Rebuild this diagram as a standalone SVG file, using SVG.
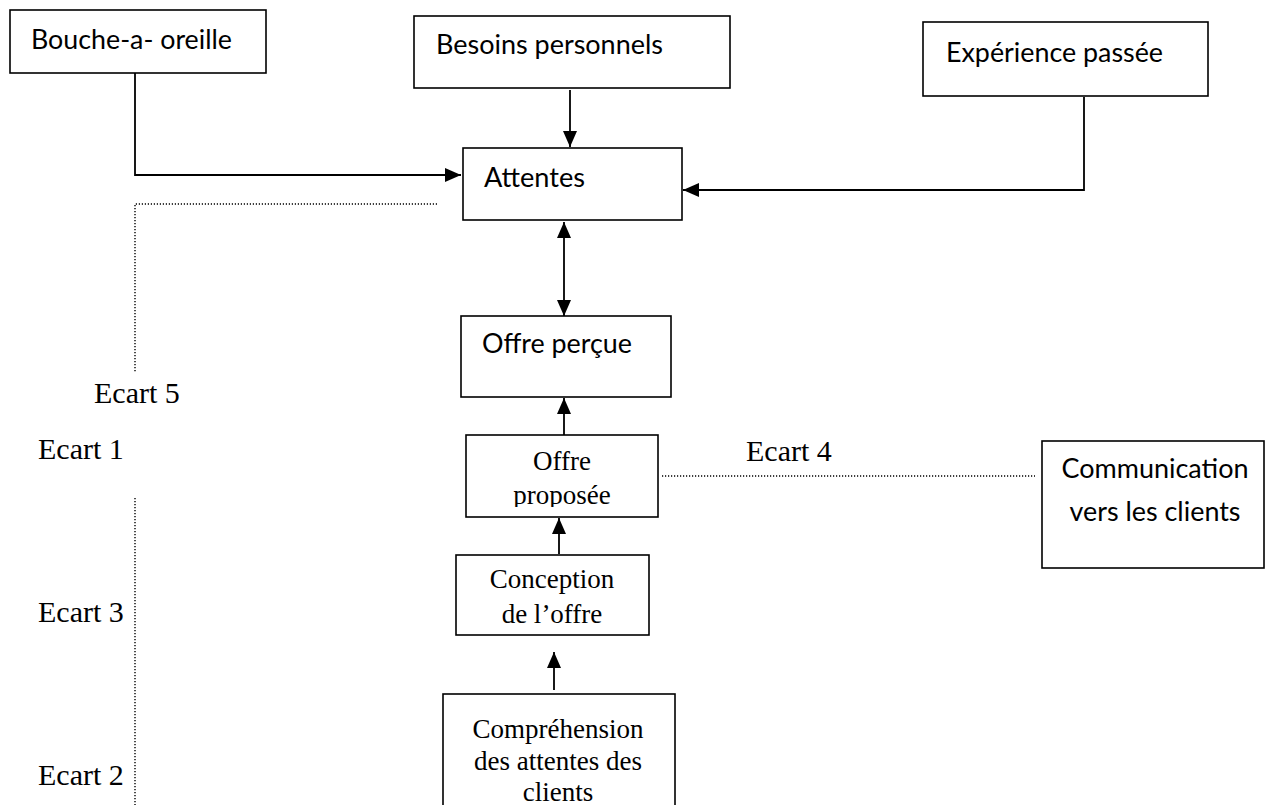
<svg xmlns="http://www.w3.org/2000/svg" width="1277" height="805" viewBox="0 0 1277 805">
  <defs>
    <style>
      .box { fill: #ffffff; stroke: #000000; stroke-width: 1.6; }
      .sans { font-family: Lato, "Open Sans", "Liberation Sans", sans-serif; font-size: 26px; fill: #000000; }
      .serif { font-family: "Liberation Serif", "Times New Roman", serif; font-size: 27px; fill: #000000; text-anchor: middle; }
      .gap { font-family: "Liberation Serif", "Times New Roman", serif; font-size: 30px; fill: #000000; }
      .link { fill: none; stroke: #000000; stroke-width: 1.8; }
      .dots { fill: none; stroke: #000000; stroke-width: 1.4; stroke-dasharray: 1.2 1.8; }
    </style>
    <marker id="head" viewBox="0 0 16 14" refX="16" refY="7" markerWidth="16" markerHeight="14" markerUnits="userSpaceOnUse" orient="auto-start-reverse">
      <path d="M0,0 L16,7 L0,14 Z" fill="#000000"/>
    </marker>
    <clipPath id="clip-proposee">
      <rect x="466" y="435" width="192" height="72"/>
    </clipPath>
  </defs>

  <!-- connectors -->
  <g id="connectors">
    <polyline class="link" points="135,70 135,175 461,175" marker-end="url(#head)"/>
    <line class="link" x1="570" y1="90" x2="570" y2="147" marker-end="url(#head)"/>
    <polyline class="link" points="1084,97 1084,190 683,190" marker-end="url(#head)"/>
    <line class="link" x1="564" y1="222" x2="564" y2="316" marker-start="url(#head)" marker-end="url(#head)"/>
    <line class="link" x1="564" y1="445" x2="564" y2="398" marker-end="url(#head)"/>
    <line class="link" x1="559" y1="554" x2="559" y2="518" marker-end="url(#head)"/>
    <line class="link" x1="554" y1="690" x2="554" y2="652" marker-end="url(#head)"/>
    <!-- gap markers -->
    <polyline class="dots" points="437,204 135,204 135,373"/>
    <line class="dots" x1="662" y1="476" x2="1035" y2="476"/>
    <line class="dots" x1="135" y1="498" x2="135" y2="805"/>
  </g>

  <g id="bouche-a-oreille">
    <rect class="box" x="10" y="10" width="256" height="63"/>
    <text class="sans" x="31" y="49" textLength="201" lengthAdjust="spacingAndGlyphs">Bouche-a- oreille</text>
  </g>

  <g id="besoins-personnels">
    <rect class="box" x="414" y="16" width="316" height="72"/>
    <text class="sans" x="436" y="54" textLength="227" lengthAdjust="spacingAndGlyphs">Besoins personnels</text>
  </g>

  <g id="experience-passee">
    <rect class="box" x="923" y="22" width="285" height="74"/>
    <text class="sans" x="946" y="62" textLength="217" lengthAdjust="spacingAndGlyphs">Expérience passée</text>
  </g>

  <g id="attentes">
    <rect class="box" x="463" y="148" width="219" height="72"/>
    <text class="sans" x="484" y="187" textLength="101" lengthAdjust="spacingAndGlyphs">Attentes</text>
  </g>

  <g id="offre-percue">
    <rect class="box" x="461" y="316" width="210" height="81"/>
    <text class="sans" x="482" y="353" textLength="150" lengthAdjust="spacingAndGlyphs">Offre perçue</text>
  </g>

  <g id="offre-proposee">
    <rect class="box" x="466" y="435" width="192" height="82"/>
    <g clip-path="url(#clip-proposee)">
      <text class="serif" x="562" y="470">Offre</text>
      <text class="serif" x="562" y="504">proposée</text>
    </g>
  </g>

  <g id="conception">
    <rect class="box" x="456" y="555" width="193" height="80"/>
    <text class="serif" x="552" y="588">Conception</text>
    <text class="serif" x="552" y="623">de l’offre</text>
  </g>

  <g id="comprehension">
    <rect class="box" x="443" y="694" width="232" height="120"/>
    <text class="serif" x="558" y="738">Compréhension</text>
    <text class="serif" x="558" y="770">des attentes des</text>
    <text class="serif" x="558" y="801">clients</text>
  </g>

  <g id="communication">
    <rect class="box" x="1042" y="441" width="222" height="127"/>
    <text class="sans" x="1155" y="478" text-anchor="middle" textLength="187" lengthAdjust="spacingAndGlyphs">Communication</text>
    <text class="sans" x="1155" y="521" text-anchor="middle" textLength="171" lengthAdjust="spacingAndGlyphs">vers les clients</text>
  </g>

  <g id="ecarts">
    <text class="gap" x="94" y="403">Ecart 5</text>
    <text class="gap" x="38" y="459">Ecart 1</text>
    <text class="gap" x="746" y="461">Ecart 4</text>
    <text class="gap" x="38" y="622">Ecart 3</text>
    <text class="gap" x="38" y="785">Ecart 2</text>
  </g>
</svg>
